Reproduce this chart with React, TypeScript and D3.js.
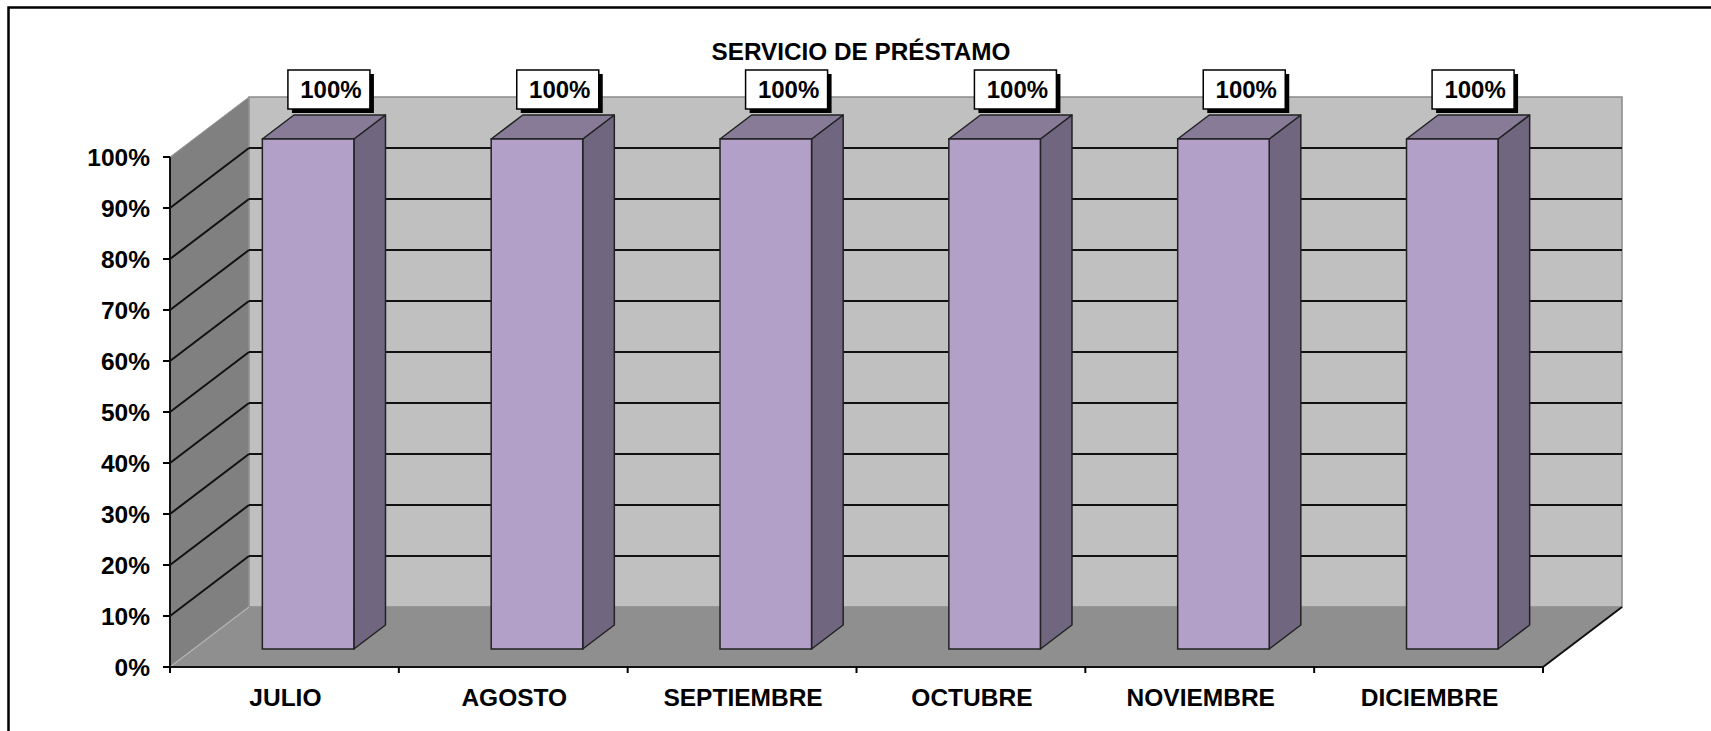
import React from 'react'
import * as d3 from 'd3'

const months = ['JULIO', 'AGOSTO', 'SEPTIEMBRE', 'OCTUBRE', 'NOVIEMBRE', 'DICIEMBRE']
const values = [1, 1, 1, 1, 1, 1]
const yTicks = [0, 0.1, 0.2, 0.3, 0.4, 0.5, 0.6, 0.7, 0.8, 0.9, 1]
const title = 'SERVICIO DE PRÉSTAMO'

const W = 1711
const H = 731
const FONT = '"Liberation Sans", Arial, sans-serif'

// depth offset of the 3d box
const DX = 79
const DY = -60
const barFront = 0.3
const barBack = 0.7

export default function App() {
	const x = d3.scaleBand<string>().domain(months).range([170, 1543]).paddingInner(0.6).paddingOuter(0.3)
	const y = d3.scaleLinear().domain([0, 1]).range([667, 157])
	const pct = d3.format('.0%')
	const step = x.step()
	const x0 = 170
	const x1 = 1543
	const y0 = y(0)
	const yTop = y(1)

	const pts = (arr: number[][]) => arr.map(p => p.join(',')).join(' ')

	return (
		<svg width={W} height={H} style={{ position: 'absolute', left: 0, top: 0, display: 'block' }} fontFamily={FONT}>
			<rect x={0} y={0} width={W} height={H} fill='#fff' />
			{/* outer chart border */}
			<path d={`M8.5,${H + 5} L8.5,7.5 L${W + 5},7.5`} fill='none' stroke='#000' strokeWidth={2.5} />

			<text x={861} y={60} textAnchor='middle' fontSize={24.3} fontWeight='bold'>{title}</text>

			{/* back wall */}
			<rect x={x0 + DX} y={yTop + DY} width={x1 - x0} height={y0 - yTop} fill='#c0c0c0' stroke='#8a8a8a' strokeWidth={1.5} />
			{/* side wall */}
			<polygon points={pts([[x0, yTop], [x0 + DX, yTop + DY], [x0 + DX, y0 + DY], [x0, y0]])} fill='#808080' stroke='#9a9a9a' strokeWidth={1} />
			{/* floor */}
			<polygon points={pts([[x0, y0], [x1, y0], [x1 + DX, y0 + DY], [x0 + DX, y0 + DY]])} fill='#8f8f8f' />
			<line x1={x0} y1={y0} x2={x0 + DX} y2={y0 + DY} stroke='#b0b0b0' strokeWidth={1.5} />
			<line x1={x1} y1={y0} x2={x1 + DX} y2={y0 + DY} stroke='#111' strokeWidth={2} />

			{/* gridlines */}
			{yTicks.filter(t => t > 0 && t < 1).map(t => (
				<g key={t}>
					<line x1={x0} y1={y(t)} x2={x0 + DX} y2={y(t) + DY} stroke='#111' strokeWidth={2} />
					<line x1={x0 + DX} y1={y(t) + DY} x2={x1 + DX} y2={y(t) + DY} stroke='#111' strokeWidth={2} />
				</g>
			))}

			{/* y axis */}
			<line x1={x0} y1={yTop} x2={x0} y2={y0} stroke='#111' strokeWidth={2} />
			{yTicks.map(t => (
				<g key={t}>
					<line x1={x0 - 7} y1={y(t)} x2={x0} y2={y(t)} stroke='#000' strokeWidth={2} />
					<text x={150} y={y(t) + 9} textAnchor='end' fontSize={24.5} fontWeight='bold'>{pct(t)}</text>
				</g>
			))}

			{/* x axis */}
			<line x1={x0} y1={y0} x2={x1} y2={y0} stroke='#111' strokeWidth={2} />
			{d3.range(months.length + 1).map(i => (
				<line key={i} x1={x0 + i * step} y1={y0} x2={x0 + i * step} y2={y0 + 6} stroke='#000' strokeWidth={2} />
			))}
			{months.map(m => (
				<text key={m} x={(x(m) as number) + x.bandwidth() / 2 + 1} y={706} textAnchor='middle' fontSize={24.5} fontWeight='bold'>{m}</text>
			))}

			{/* bars */}
			{months.map((m, i) => {
				const bx = (x(m) as number) + barFront * DX
				const bw = x.bandwidth()
				const by = y(values[i]) + barFront * DY
				const bb = y(0) + barFront * DY
				const ddx = (barBack - barFront) * DX
				const ddy = (barBack - barFront) * DY
				const cx = (x(m) as number) + bw / 2 + 0.5 * DX + 5
				const labelBottom = y(values[i]) + 0.5 * DY - 18
				return (
					<g key={m}>
						<polygon points={pts([[bx + bw, by], [bx + bw + ddx, by + ddy], [bx + bw + ddx, bb + ddy], [bx + bw, bb]])} fill='#716680' stroke='#222' strokeWidth={1.5} strokeLinejoin='round' />
						<polygon points={pts([[bx, by], [bx + ddx, by + ddy], [bx + bw + ddx, by + ddy], [bx + bw, by]])} fill='#877b97' stroke='#222' strokeWidth={1.5} strokeLinejoin='round' />
						<rect x={bx} y={by} width={bw} height={bb - by} fill='#b3a0c8' stroke='#222' strokeWidth={1.5} />
						<rect x={cx - 41 + 4} y={labelBottom - 39 + 4} width={82} height={39} fill='#000' />
						<rect x={cx - 41} y={labelBottom - 39} width={82} height={39} fill='#fff' stroke='#000' strokeWidth={1.5} />
						<text x={cx + 2} y={labelBottom - 11} textAnchor='middle' fontSize={24} fontWeight='bold'>{pct(values[i])}</text>
					</g>
				)
			})}
		</svg>
	)
}
